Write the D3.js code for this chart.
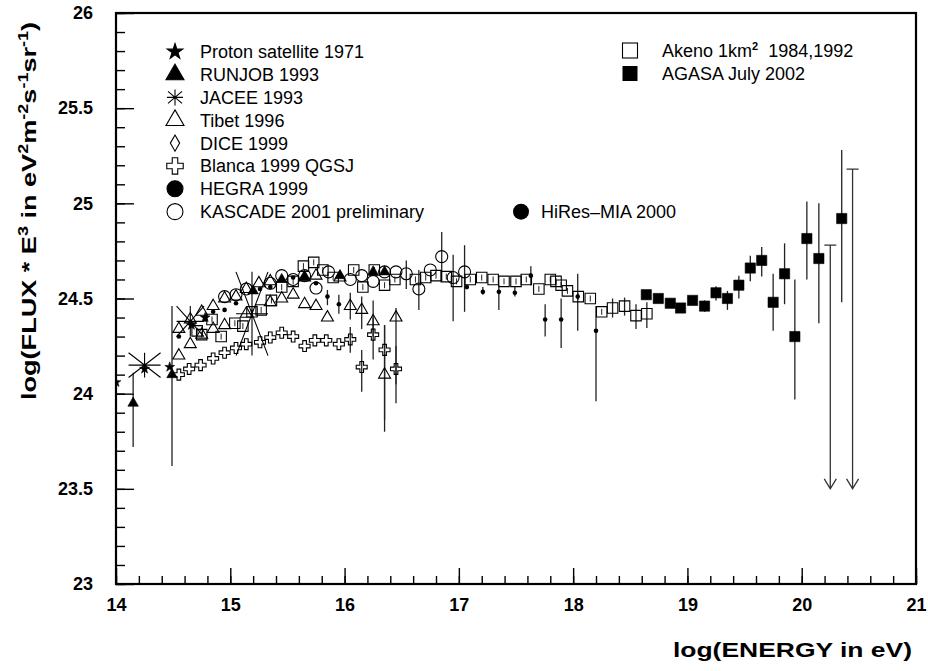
<!DOCTYPE html>
<html><head><meta charset="utf-8">
<script src="https://cdn.jsdelivr.net/npm/d3@7"></script>
<style>body{margin:0;background:#fff}svg{display:block}</style>
</head><body>
<script>
// ---------------- DATA ----------------
// points: [logE, logFlux, errLow, errHigh] (errors optional)
const xTickLabels = [14,15,16,17,18,19,20,21];
const yTickLabels = [23,23.5,24,24.5,25,25.5,26];

const proton = [[14.0,24.06],[14.25,24.13],[14.47,24.14],[14.66,24.36],[14.78,24.40]];
const runjob = [[14.15,23.95,23.72,24.11],[14.49,24.10,23.62,24.46],[15.20,24.54],[15.45,24.60],
  [15.65,24.61],[15.96,24.62],[16.25,24.64],[16.35,24.64]];
// JACEE: [logE, logFlux, half-width in logE, half-height in logFlux]
const jacee = [[14.25,24.15,0.14,0.065],[14.65,24.38,0.12,0.08],[15.19,24.42,0.14,0.22]];
const tibet = [[14.55,24.20],[14.55,24.34],[14.65,24.26],[14.65,24.39],[14.75,24.31],[14.75,24.43],
  [14.85,24.34],[14.85,24.46],[14.95,24.36],[14.95,24.50],[15.05,24.51],[15.14,24.42],[15.14,24.55],
  [15.25,24.58],[15.35,24.48],[15.35,24.59],[15.45,24.50],[15.55,24.52],[15.65,24.47],[15.75,24.46],
  [15.85,24.40],[15.65,24.61],[15.75,24.62],[15.96,24.61],[16.05,24.46,24.39,24.53],
  [16.15,24.44,24.34,24.51],[16.25,24.38,24.30,24.49],[16.35,24.10,23.80,24.36],[16.45,24.40,24.05,24.45]];
const dice = [];
const blanca = [[14.55,24.10],[14.64,24.13],[14.74,24.15],[14.85,24.185],[14.95,24.215],[15.05,24.24],
  [15.14,24.26],[15.26,24.27],[15.35,24.295],[15.45,24.32],[15.55,24.30],[15.65,24.25],[15.74,24.28],
  [15.84,24.28],[15.95,24.26],[16.05,24.285,24.215,24.35],[16.15,24.14,24.01,24.23],
  [16.25,24.31,24.18,24.40],[16.35,24.23,23.86,24.36],[16.45,24.13,23.95,24.25]];
const hegra = [[14.55,24.30],[14.66,24.36],[14.78,24.39],[14.85,24.43],[14.95,24.44],[15.05,24.475],
  [15.26,24.55],[15.35,24.56],[15.55,24.61],[15.75,24.58],[15.85,24.51,24.465,24.545],[15.95,24.47,24.42,24.52]];
const kascade = [[14.95,24.51],[15.05,24.52],[15.14,24.55],[15.35,24.58],[15.45,24.62],[15.55,24.60],
  [15.65,24.62],[15.75,24.555],[15.86,24.64],[16.05,24.60],[16.15,24.62],[16.25,24.59],[16.35,24.64],
  [16.45,24.64],[16.54,24.63,24.55,24.70],[16.65,24.55,24.44,24.65],[16.75,24.65],[16.85,24.72,24.59,24.85],
  [16.95,24.61,24.38,24.73],[17.05,24.64,24.43,24.78]];
const hiresMia = [[17.07,24.56],[17.21,24.535,24.52,24.56],[17.35,24.535,24.44,24.57],[17.49,24.53,24.51,24.56],
  [17.63,24.62,24.57,24.67],[17.755,24.39,24.30,24.47],[17.895,24.39,24.24,24.50],[18.04,24.51,24.33,24.63],
  [18.20,24.33,23.96,24.46]];
const akeno = [[14.71,24.33],[14.75,24.31],[14.84,24.39],[14.92,24.30],[15.04,24.37],[15.11,24.355],
  [15.19,24.43],[15.27,24.44],[15.36,24.49],[15.45,24.56],[15.55,24.59],[15.64,24.67],[15.73,24.69],
  [15.81,24.65],[15.90,24.61],[16.08,24.65],[16.16,24.56],[16.26,24.65],[16.35,24.57],[16.44,24.60],
  [16.62,24.60],[16.71,24.61],[16.80,24.62],[16.89,24.615],[16.98,24.59],[17.10,24.60],[17.20,24.61],
  [17.30,24.60],[17.395,24.59],[17.50,24.59],[17.59,24.60],[17.70,24.55],[17.80,24.60],[17.85,24.59],
  [17.895,24.57],[17.95,24.54],[18.045,24.51],[18.15,24.50],[18.25,24.43],[18.345,24.45,24.40,24.50],
  [18.45,24.46,24.41,24.505],[18.55,24.41,24.34,24.47],[18.645,24.42,24.345,24.48]];
const agasa = [[18.64,24.52],[18.745,24.50],[18.85,24.475],[18.94,24.45],[19.045,24.49],
  [19.15,24.46,24.43,24.49],[19.25,24.53,24.49,24.565],[19.35,24.50,24.44,24.54],[19.45,24.57,24.50,24.62],
  [19.55,24.66,24.59,24.725],[19.65,24.70,24.615,24.77],[19.75,24.48,24.33,24.63],[19.85,24.63,24.47,24.79],
  [19.94,24.30,23.97,24.60],[20.045,24.815,24.60,25.01],[20.15,24.71,24.37,25.00],[20.35,24.92,24.48,25.28]];
// AGASA upper limits: [logE, limit, arrow end]
const agasaLimits = [[20.25,24.78,23.5],[20.445,25.18,23.5]];

const legendLeft = ["Proton satellite 1971","RUNJOB 1993","JACEE 1993","Tibet 1996","DICE 1999",
  "Blanca 1999 QGSJ","HEGRA 1999","KASCADE 2001 preliminary"];
const legendHires = "HiRes\u2013MIA 2000";

// ---------------- CHART ----------------
const W = 928, H = 671;
const x = d3.scaleLinear().domain([14,21]).range([116,916]);
const y = d3.scaleLinear().domain([23,26]).range([584,13]);
const svg = d3.select("body").append("svg").attr("width",W).attr("height",H)
  .style("font-family","'Liberation Sans', Arial, sans-serif");

svg.append("defs").append("clipPath").attr("id","clip").append("rect")
  .attr("x",116).attr("y",13).attr("width",800).attr("height",571);

// axes
const xMinor = d3.range(0,36).map(i=>14+i*0.2);
const yMinor = d3.range(0,31).map(i=>23+i*0.1);
function styleAxis(g){ g.select(".domain").remove(); g.selectAll(".tick line").attr("stroke","#000").attr("stroke-width",1.4); }
svg.append("g").attr("transform","translate(0,584)")
  .call(d3.axisBottom(x).tickValues(xMinor).tickSize(-8).tickFormat("")).call(styleAxis);
svg.append("g").attr("transform","translate(0,584)")
  .call(d3.axisBottom(x).tickValues(xTickLabels).tickSize(-16).tickPadding(14).tickFormat(d3.format("d")))
  .call(styleAxis)
  .selectAll("text").attr("font-size",18).attr("font-weight","bold").attr("fill","#000")
  .attr("font-family","'Liberation Sans', Arial, sans-serif");
svg.append("g").attr("transform","translate(116,0)")
  .call(d3.axisLeft(y).tickValues(yMinor).tickSize(-9).tickFormat("")).call(styleAxis);
svg.append("g").attr("transform","translate(116,0)")
  .call(d3.axisLeft(y).tickValues(yTickLabels).tickSize(-18).tickPadding(23).tickFormat(d=>String(d)))
  .call(styleAxis)
  .selectAll("text").attr("font-size",18).attr("font-weight","bold").attr("fill","#000")
  .attr("font-family","'Liberation Sans', Arial, sans-serif");

svg.append("rect").attr("x",116).attr("y",13).attr("width",800).attr("height",571)
  .attr("fill","none").attr("stroke","#000").attr("stroke-width",2.2);

// titles
svg.append("text").attr("transform","translate(912,657) scale(1.26,1)")
  .attr("text-anchor","end").attr("font-size",21).attr("font-weight","bold").text("log(ENERGY in eV)");
const yt = svg.append("text").attr("transform","translate(36,400) rotate(-90) scale(1.29,1)")
  .attr("font-size",21).attr("font-weight","bold");
[["log(FLUX * E",0],["3",1],[" in eV",0],["2",1],["m",0],["-2",1],["s",0],["-1",1],["sr",0],["-1",1],[")",0]]
  .forEach(([t,sup],i,arr)=>{
    const prevSup = i>0 ? arr[i-1][1] : 0;
    const ts = yt.append("tspan").text(t);
    if(sup){ ts.attr("font-size",14).attr("dy", prevSup? 0 : -8); }
    else if(prevSup){ ts.attr("dy",8); }
  });

// plotting
const plot = svg.append("g").attr("clip-path","url(#clip)");
const EB = "#222";
function errBars(data){
  plot.append("g").selectAll("line").data(data.filter(d=>d.length>=4)).join("line")
    .attr("x1",d=>x(d[0])).attr("x2",d=>x(d[0])).attr("y1",d=>y(d[2])).attr("y2",d=>y(d[3]))
    .attr("stroke",EB).attr("stroke-width",1.3);
}
function markers(data,type,size,filled){
  plot.append("g").selectAll("path").data(data).join("path")
    .attr("transform",d=>`translate(${x(d[0])},${y(d[1])})`)
    .attr("d",d3.symbol().type(type).size(size))
    .attr("fill",filled?"#000":"none").attr("stroke","#000").attr("stroke-width",filled?0.6:1.1);
}
function dots(data,r){
  plot.append("g").selectAll("circle").data(data).join("circle")
    .attr("cx",d=>x(d[0])).attr("cy",d=>y(d[1])).attr("r",r).attr("fill","#000");
}
[runjob,tibet,blanca,hegra,kascade,hiresMia,akeno,agasa].forEach(errBars);
plot.append("g").selectAll("line").data(akeno.filter(d=>d.length<4)).join("line")
  .attr("x1",d=>x(d[0])).attr("x2",d=>x(d[0])).attr("y1",d=>y(d[1])-3).attr("y2",d=>y(d[1])+3)
  .attr("stroke",EB).attr("stroke-width",1);

markers(akeno,d3.symbolSquare,110,false);
markers(tibet,d3.symbolTriangle,62,false);
markers(blanca,d3.symbolCross,67,false);
markers(kascade,d3.symbolCircle,113,false);
markers(dice,d3.symbolDiamond,60,false);
markers(runjob,d3.symbolTriangle,48,true);
markers(proton,d3.symbolStar,30,true);
dots(hegra,2.3);
dots(hiresMia,2.3);
markers(agasa,d3.symbolSquare,105,true);

// JACEE asterisks
plot.append("g").selectAll("path").data(jacee).join("path")
  .attr("d",d=>{
    const cx=x(d[0]), cy=y(d[1]), hx=x(d[0]+d[2])-cx, hy=cy-y(d[1]+d[3]);
    return `M${cx-hx},${cy}H${cx+hx}M${cx},${cy-hy}V${cy+hy}M${cx-hx},${cy-hy}L${cx+hx},${cy+hy}M${cx+hx},${cy-hy}L${cx-hx},${cy+hy}`;
  }).attr("fill","none").attr("stroke","#000").attr("stroke-width",1.1);

// AGASA upper limits
const lim = plot.append("g").attr("stroke","#333").attr("stroke-width",1.3).attr("fill","none");
lim.selectAll("path").data(agasaLimits).join("path")
  .attr("d",d=>{
    const cx=x(d[0]), y0=y(d[1]), y1=y(d[2]);
    return `M${cx-6},${y0}H${cx+6}M${cx},${y0}V${y1}M${cx-6},${y1-10}L${cx},${y1}L${cx+6},${y1-10}`;
  });

// ---------------- LEGEND ----------------
const leg = svg.append("g");
const rowsY = legendLeft.map((_,i)=>51.7+i*22.85);
const legTypes = [
  [d3.symbolStar,75,true],[d3.symbolTriangle,140,true],null,[d3.symbolTriangle,140,false],
  [d3.symbolDiamond,75,false],[d3.symbolCross,150,false],[d3.symbolCircle,200,true],[d3.symbolCircle,200,false]];
legendLeft.forEach((t,i)=>{
  const cy=rowsY[i], cx=175;
  const lt=legTypes[i];
  if(lt){
    leg.append("path").attr("transform",`translate(${cx},${cy})`).attr("d",d3.symbol().type(lt[0]).size(lt[1]))
      .attr("fill",lt[2]?"#000":"none").attr("stroke","#000").attr("stroke-width",1.1);
  } else {
    leg.append("path").attr("d",`M${cx-8},${cy}H${cx+8}M${cx},${cy-8}V${cy+8}M${cx-7},${cy-6}L${cx+7},${cy+6}M${cx+7},${cy-6}L${cx-7},${cy+6}`)
      .attr("stroke","#000").attr("stroke-width",1.1);
  }
  leg.append("text").attr("x",200).attr("y",cy+6.5).attr("font-size",18).text(t);
});
leg.append("circle").attr("cx",521).attr("cy",rowsY[7]).attr("r",8).attr("fill","#000");
leg.append("text").attr("x",541).attr("y",rowsY[7]+6.5).attr("font-size",18).text(legendHires);

leg.append("rect").attr("x",622.5).attr("y",43).attr("width",15).attr("height",15)
  .attr("fill","none").attr("stroke","#000").attr("stroke-width",1.1);
const ak = leg.append("text").attr("x",662).attr("y",50.7+6.5).attr("font-size",18);
ak.append("tspan").text("Akeno 1km");
ak.append("tspan").attr("font-size",11).attr("font-weight","bold").attr("dy",-7).text("2");
ak.append("tspan").attr("dy",7).attr("dx",10).text("1984,1992");
leg.append("rect").attr("x",622.5).attr("y",66).attr("width",15).attr("height",15).attr("fill","#000");
leg.append("text").attr("x",662).attr("y",73.3+6.5).attr("font-size",18).text("AGASA July 2002");
</script>
</body></html>
